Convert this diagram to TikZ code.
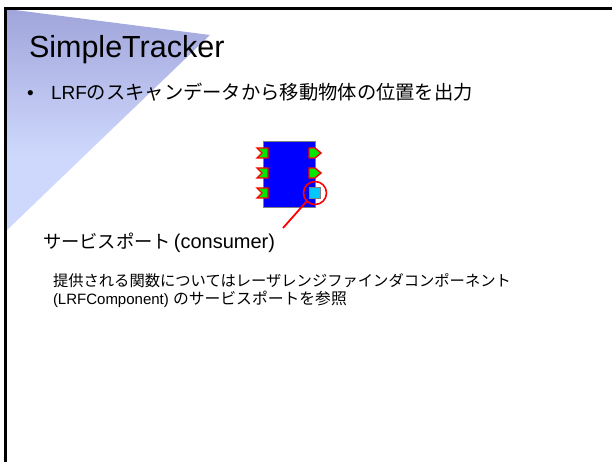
\documentclass[tikz,border=0pt]{standalone}
\usepackage{fontspec}
\setmainfont{Liberation Sans}
\newfontfamily\jp{Noto Sans CJK JP}
\newcommand{\fs}[1]{\fontsize{#1}{#1}\selectfont}
\definecolor{gtop}{RGB}{126,126,194}
\definecolor{glight}{RGB}{206,216,252}
\definecolor{gbot}{RGB}{140,160,140}
\definecolor{portgreen}{RGB}{0,230,0}
\definecolor{svcyan}{RGB}{0,200,255}
\pgfdeclareverticalshading{trishade}{100bp}{color(0bp)=(gbot); color(20bp)=(glight); color(42bp)=(glight); color(100bp)=(gtop)}
\tikzset{
  txt/.style={anchor=base west, inner sep=0pt, outer sep=0pt},
  inport/.style={draw=red, line width=1.4pt, fill=portgreen, line join=miter},
  outport/.style={draw=red, line width=1.4pt, fill=portgreen, line join=miter},
}
\begin{document}
\begin{tikzpicture}[x=1pt,y=-1pt]
\useasboundingbox (0,0) rectangle (612,462);
\fill[white] (0,0) rectangle (612,462);
% gradient triangle
\shade[shading=trishade] (7,9) -- (210,35) -- (7,230) -- cycle;
% slide border
\draw[line width=2.5pt, black] (5.5,462) -- (5.5,8.5) -- (612,8.5);
% title
\node[txt] (title) at (29,58) {\fs{30.5}SimpleTracker};
% bullet
\node[txt] (bul) at (27,100) {\fs{19}•};
\node[txt] (b1) at (51,100) {\fs{19}LRF{\jp\fs{19.3}のスキャンデータから移動物体の位置を出力}};
% component
\node[draw=gray, line width=1pt, fill=blue, minimum width=52pt, minimum height=66pt, inner sep=0pt, anchor=north west] (comp) at (263,141) {};
\foreach \c/\n in {153/i1,173/i2,193/i3}{
  \draw[inport] (257,\c-5) -- (268,\c-5) -- (268,\c+5) -- (257,\c+5) -- (262,\c) -- cycle;
}
\foreach \c/\n in {153/o1,173/o2}{
  \draw[outport] (309,\c-5) -- (315,\c-5) -- (321,\c) -- (315,\c+5) -- (309,\c+5) -- cycle;
}
\node[draw=gray, line width=0.8pt, fill=svcyan, minimum size=11pt, inner sep=0pt] (svc) at (314.5,192.5) {};
\node[draw=red, line width=1.6pt, circle, minimum size=23pt, inner sep=0pt] (ring) at (315,193) {};
\coordinate (tail) at (283,228);
\draw[red, line width=1.8pt] (ring.225) -- (tail);
% labels
\node[txt] (svlabel) at (43,248) {{\jp\fs{18.3}サービスポート} \fs{20}(consumer)};
\node[txt] (p1) at (53,286) {\jp\fs{15.3}提供される関数についてはレーザレンジファインダコンポーネント};
\node[txt] (p2) at (53,304) {\fs{15}(LRFComponent) {\jp\fs{15.8}のサービスポートを参照}};
\end{tikzpicture}
\end{document}
